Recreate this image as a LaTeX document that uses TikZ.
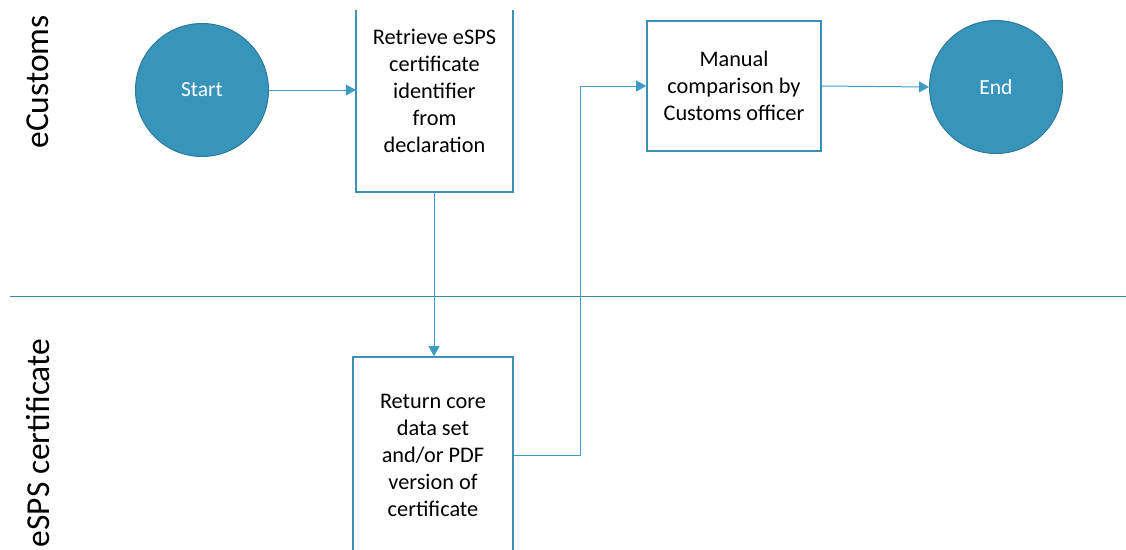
\documentclass[tikz,border=0pt]{standalone}
\usepackage{fontspec}
\setmainfont{Carlito}
\usetikzlibrary{arrows.meta,calc}
\definecolor{circfill}{HTML}{3794BB}
\definecolor{circdraw}{HTML}{2F7A9C}
\definecolor{boxdraw}{HTML}{3A90B6}
\definecolor{arrcol}{HTML}{3E9BC4}
\definecolor{lanecol}{HTML}{3F87A9}
\tikzset{
  terminal/.style={circle, fill=circfill, draw=circdraw, line width=1pt, minimum size=133pt, inner sep=0pt, text=white, font=\fontsize{21.5}{26}\selectfont},
  procbox/.style={draw=none, align=center, inner sep=0pt, font=\fontsize{22.3}{27}\selectfont},
  boxline/.style={draw=boxdraw, line width=1.6pt},
  flow/.style={draw=arrcol, line width=1pt, -{Triangle[length=10pt,width=11pt]}},
  lanelabel/.style={rotate=90, font=\fontsize{33.5}{40}\selectfont, inner sep=0pt},
}
\begin{document}
\begin{tikzpicture}[x=1pt,y=-1pt]
\useasboundingbox (0,0) rectangle (1126,549);
\clip (0,0) rectangle (1126,549);
% lane separator
\coordinate (laneL) at (10,296);
\coordinate (laneR) at (1126,296);
\draw[draw=lanecol, line width=1pt] (laneL) -- (laneR);
% lane labels
\node[lanelabel] (lab1) at (38,82) {eCustoms};
\node[lanelabel] (lab2) at (38,443) {eSPS certificate};
% nodes
\node[terminal] (start) at (202,90) {Start};
\node[terminal] (end) at (996,87) {End};
\node[procbox, minimum width=157pt, minimum height=202pt] (ret) at (434.5,91)
  {Retrieve eSPS\\certificate\\identifier\\from\\declaration};
\draw[boxline] (ret.south west |- 0,10) -- (ret.south west) -- (ret.south east) -- (ret.south east |- 0,10);
\node[procbox, draw=boxdraw, line width=1.6pt, minimum width=174pt, minimum height=130pt] (man) at (734,86)
  {Manual\\comparison by\\Customs officer};
\node[procbox, draw=boxdraw, line width=1.6pt, minimum width=160pt, minimum height=196pt] (rtn) at (433,455)
  {Return core\\data set\\and/or PDF\\version of\\certificate};
% connectors
\draw[flow] (start.east) -- (start.east -| ret.west);
\draw[flow] (ret.south -| 434,0) -- (rtn.north -| 434,0);
\coordinate (bend) at (580,0);
\draw[flow] (rtn.east) -- (rtn.east -| bend) -- (man.west -| bend) -- (man.west);
\draw[flow] (man.east) -- (end.west);
\end{tikzpicture}
\end{document}
